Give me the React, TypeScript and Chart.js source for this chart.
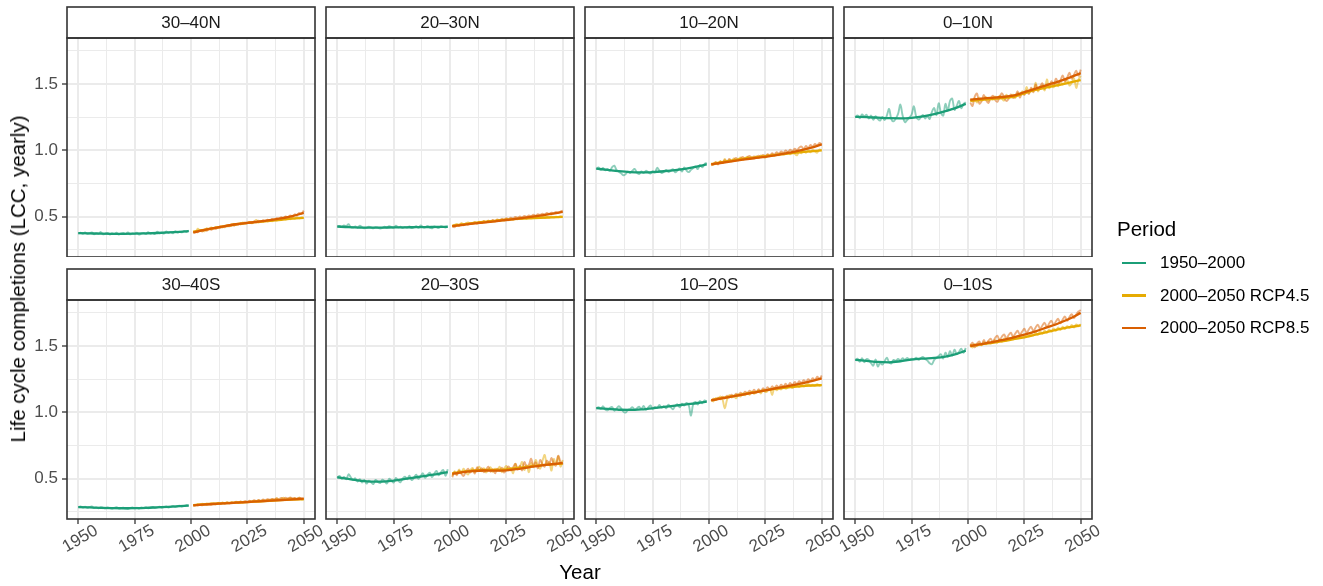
import React, { useEffect, useRef } from 'react';
import { Chart, registerables } from 'chart.js';

Chart.register(...registerables);

// ---------- categories ----------
const YEARS_HIST = Array.from({ length: 50 }, (_, i) => 1950 + i);
const YEARS_FUT = Array.from({ length: 50 }, (_, i) => 2001 + i);
const FIT_YEARS_HIST = [1950, 1955, 1960, 1965, 1970, 1975, 1980, 1985, 1990, 1995, 1999];
const FIT_YEARS_FUT = [2001, 2005, 2010, 2015, 2020, 2025, 2030, 2035, 2040, 2045, 2050];
const X_MAJOR = [1950, 1975, 2000, 2025, 2050];
const X_GRID = [1950, 1962.5, 1975, 1987.5, 2000, 2012.5, 2025, 2037.5, 2050];
const Y_GRID = [0.25, 0.5, 0.75, 1.0, 1.25, 1.5, 1.75];
const SERIES_NAMES = ['1950–2000', '2000–2050 RCP4.5', '2000–2050 RCP8.5'];

// ---------- 30–40N ----------
const hist_N40 = [
  0.372, 0.378, 0.370, 0.381, 0.369, 0.374, 0.380, 0.367, 0.375, 0.371,
  0.383, 0.366, 0.372, 0.377, 0.365, 0.374, 0.369, 0.378, 0.364, 0.373,
  0.376, 0.368, 0.381, 0.366, 0.372, 0.370, 0.379, 0.364, 0.374, 0.377,
  0.368, 0.382, 0.371, 0.375, 0.369, 0.386, 0.373, 0.378, 0.372, 0.388,
  0.376, 0.383, 0.374, 0.390, 0.379, 0.385, 0.381, 0.392, 0.384, 0.395];
const rcp45_N40 = [
  0.392, 0.384, 0.408, 0.395, 0.399, 0.389, 0.412, 0.404, 0.418, 0.407,
  0.421, 0.413, 0.426, 0.418, 0.431, 0.424, 0.437, 0.429, 0.444, 0.436,
  0.447, 0.440, 0.455, 0.446, 0.451, 0.458, 0.449, 0.462, 0.475, 0.455,
  0.466, 0.459, 0.470, 0.462, 0.473, 0.465, 0.478, 0.470, 0.481, 0.474,
  0.485, 0.478, 0.488, 0.480, 0.492, 0.484, 0.495, 0.487, 0.494, 0.490];
const rcp85_N40 = [
  0.376, 0.388, 0.381, 0.394, 0.387, 0.401, 0.393, 0.408, 0.400, 0.414,
  0.406, 0.420, 0.413, 0.427, 0.419, 0.433, 0.426, 0.440, 0.431, 0.445,
  0.438, 0.452, 0.444, 0.456, 0.449, 0.460, 0.452, 0.463, 0.457, 0.468,
  0.460, 0.472, 0.465, 0.477, 0.469, 0.482, 0.475, 0.488, 0.481, 0.495,
  0.488, 0.501, 0.494, 0.508, 0.502, 0.517, 0.510, 0.528, 0.522, 0.545];
const fitHist_N40 = [0.375, 0.373, 0.371, 0.370, 0.370, 0.371, 0.373, 0.376, 0.380, 0.385, 0.390];
const fit45_N40 = [0.385, 0.398, 0.413, 0.428, 0.442, 0.452, 0.460, 0.468, 0.476, 0.484, 0.490];
const fit85_N40 = [0.380, 0.395, 0.412, 0.428, 0.442, 0.452, 0.462, 0.473, 0.486, 0.503, 0.528];

// ---------- 20–30N ----------
const hist_N30 = [
  0.424, 0.429, 0.421, 0.433, 0.427, 0.442, 0.420, 0.418, 0.425, 0.416,
  0.431, 0.419, 0.411, 0.415, 0.423, 0.418, 0.412, 0.420, 0.416, 0.410,
  0.414, 0.424, 0.417, 0.428, 0.420, 0.415, 0.431, 0.419, 0.423, 0.414,
  0.421, 0.417, 0.425, 0.413, 0.419, 0.428, 0.415, 0.433, 0.421, 0.418,
  0.430, 0.417, 0.411, 0.426, 0.420, 0.414, 0.428, 0.422, 0.417, 0.424];
const rcp45_N30 = [
  0.428, 0.437, 0.445, 0.432, 0.451, 0.440, 0.447, 0.455, 0.443, 0.452,
  0.458, 0.447, 0.461, 0.452, 0.465, 0.456, 0.468, 0.460, 0.471, 0.463,
  0.474, 0.467, 0.477, 0.470, 0.480, 0.472, 0.484, 0.476, 0.486, 0.479,
  0.488, 0.481, 0.490, 0.484, 0.493, 0.486, 0.494, 0.488, 0.496, 0.490,
  0.498, 0.491, 0.497, 0.493, 0.500, 0.494, 0.499, 0.495, 0.502, 0.498];
const rcp85_N30 = [
  0.426, 0.420, 0.436, 0.430, 0.442, 0.434, 0.446, 0.440, 0.452, 0.444,
  0.456, 0.448, 0.460, 0.452, 0.465, 0.458, 0.469, 0.462, 0.474, 0.466,
  0.478, 0.470, 0.483, 0.476, 0.487, 0.480, 0.492, 0.485, 0.498, 0.490,
  0.500, 0.494, 0.505, 0.498, 0.509, 0.503, 0.514, 0.507, 0.518, 0.512,
  0.522, 0.516, 0.527, 0.520, 0.530, 0.525, 0.535, 0.529, 0.538, 0.545];
const fitHist_N30 = [0.425, 0.420, 0.417, 0.416, 0.417, 0.418, 0.419, 0.420, 0.421, 0.422, 0.423];
const fit45_N30 = [0.430, 0.440, 0.450, 0.460, 0.468, 0.476, 0.482, 0.487, 0.491, 0.494, 0.497];
const fit85_N30 = [0.428, 0.436, 0.446, 0.455, 0.464, 0.474, 0.484, 0.495, 0.507, 0.520, 0.535];

// ---------- 10–20N ----------
const hist_N20 = [
  0.858, 0.870, 0.852, 0.866, 0.849, 0.860, 0.845, 0.872, 0.884, 0.851,
  0.838, 0.826, 0.812, 0.820, 0.838, 0.829, 0.846, 0.859, 0.832, 0.821,
  0.840, 0.828, 0.845, 0.835, 0.824, 0.843, 0.832, 0.868, 0.846, 0.829,
  0.838, 0.851, 0.836, 0.845, 0.858, 0.834, 0.847, 0.862, 0.840, 0.871,
  0.848, 0.835, 0.852, 0.866, 0.878, 0.858, 0.889, 0.872, 0.896, 0.905];
const rcp45_N20 = [
  0.902, 0.889, 0.910, 0.897, 0.918, 0.904, 0.935, 0.912, 0.928, 0.915,
  0.938, 0.922, 0.931, 0.946, 0.927, 0.940, 0.952, 0.935, 0.948, 0.939,
  0.956, 0.942, 0.961, 0.950, 0.944, 0.966, 0.955, 0.971, 0.958, 0.975,
  0.962, 0.980, 0.966, 0.972, 0.985, 0.969, 0.990, 0.974, 0.962, 0.987,
  0.978, 0.995, 0.981, 0.999, 0.985, 1.004, 0.991, 0.982, 1.006, 0.998];
const rcp85_N20 = [
  0.885, 0.898, 0.910, 0.893, 0.915, 0.904, 0.925, 0.911, 0.934, 0.920,
  0.929, 0.942, 0.925, 0.938, 0.950, 0.933, 0.946, 0.958, 0.941, 0.953,
  0.947, 0.960, 0.952, 0.965, 0.956, 0.971, 0.962, 0.978, 0.968, 0.985,
  0.975, 0.992, 0.980, 0.998, 0.986, 1.005, 0.993, 1.012, 1.000, 1.020,
  1.028, 1.008, 1.032, 1.016, 1.040, 1.026, 1.048, 1.035, 1.056, 1.042];
const fitHist_N20 = [0.862, 0.852, 0.842, 0.835, 0.833, 0.836, 0.842, 0.850, 0.862, 0.878, 0.893];
const fit45_N20 = [0.895, 0.908, 0.922, 0.935, 0.945, 0.955, 0.965, 0.975, 0.984, 0.992, 1.000];
const fit85_N20 = [0.893, 0.904, 0.917, 0.929, 0.940, 0.950, 0.963, 0.980, 0.998, 1.018, 1.045];

// ---------- 0–10N ----------
const hist_N10 = [
  1.248, 1.262, 1.241, 1.270, 1.255, 1.268, 1.240, 1.262, 1.230, 1.258,
  1.236, 1.224, 1.252, 1.228, 1.262, 1.312, 1.235, 1.218, 1.240, 1.275,
  1.345, 1.262, 1.212, 1.228, 1.248, 1.270, 1.332, 1.255, 1.232, 1.246,
  1.266, 1.240, 1.258, 1.236, 1.290, 1.318, 1.265, 1.355, 1.283, 1.262,
  1.350, 1.298, 1.372, 1.390, 1.305, 1.335, 1.372, 1.318, 1.348, 1.362];
const rcp45_N10 = [
  1.385, 1.368, 1.392, 1.360, 1.398, 1.375, 1.388, 1.402, 1.372, 1.395,
  1.380, 1.406, 1.384, 1.412, 1.390, 1.375, 1.418, 1.396, 1.408, 1.420,
  1.395, 1.432, 1.415, 1.445, 1.425, 1.478, 1.432, 1.462, 1.448, 1.510,
  1.445, 1.470, 1.488, 1.452, 1.535, 1.468, 1.490, 1.475, 1.505, 1.482,
  1.520, 1.496, 1.512, 1.530, 1.488, 1.508, 1.545, 1.470, 1.532, 1.562];
const rcp85_N10 = [
  1.360, 1.335, 1.405, 1.428, 1.352, 1.370, 1.418, 1.378, 1.356, 1.392,
  1.412, 1.380, 1.365, 1.398, 1.430, 1.402, 1.372, 1.388, 1.422, 1.395,
  1.408, 1.445, 1.398, 1.430, 1.418, 1.452, 1.425, 1.472, 1.438, 1.495,
  1.455, 1.480, 1.505, 1.462, 1.498, 1.478, 1.520, 1.492, 1.540, 1.505,
  1.528, 1.565, 1.522, 1.548, 1.585, 1.540, 1.570, 1.600, 1.562, 1.608];
const fitHist_N10 = [1.252, 1.250, 1.246, 1.242, 1.241, 1.245, 1.255, 1.272, 1.295, 1.322, 1.350];
const fit45_N10 = [1.372, 1.378, 1.386, 1.393, 1.402, 1.430, 1.455, 1.474, 1.492, 1.510, 1.530];
const fit85_N10 = [1.382, 1.388, 1.395, 1.402, 1.412, 1.438, 1.465, 1.492, 1.518, 1.548, 1.582];

// ---------- 30–40S ----------
const hist_S40 = [
  0.284, 0.290, 0.281, 0.287, 0.279, 0.285, 0.289, 0.278, 0.283, 0.276,
  0.284, 0.280, 0.275, 0.282, 0.277, 0.272, 0.279, 0.284, 0.274, 0.278,
  0.281, 0.273, 0.270, 0.278, 0.283, 0.275, 0.280, 0.273, 0.282, 0.277,
  0.284, 0.276, 0.280, 0.286, 0.278, 0.283, 0.288, 0.280, 0.285, 0.290,
  0.282, 0.287, 0.293, 0.286, 0.291, 0.296, 0.289, 0.294, 0.300, 0.297];
const rcp45_S40 = [
  0.302, 0.296, 0.308, 0.301, 0.310, 0.304, 0.313, 0.306, 0.315, 0.309,
  0.304, 0.317, 0.310, 0.319, 0.312, 0.322, 0.314, 0.320, 0.316, 0.324,
  0.318, 0.326, 0.320, 0.328, 0.322, 0.330, 0.324, 0.333, 0.327, 0.336,
  0.329, 0.338, 0.332, 0.341, 0.335, 0.344, 0.338, 0.352, 0.340, 0.346,
  0.356, 0.342, 0.349, 0.354, 0.344, 0.351, 0.347, 0.355, 0.343, 0.349];
const rcp85_S40 = [
  0.295, 0.301, 0.297, 0.305, 0.299, 0.307, 0.302, 0.310, 0.304, 0.312,
  0.307, 0.314, 0.309, 0.317, 0.312, 0.320, 0.314, 0.322, 0.317, 0.325,
  0.320, 0.327, 0.322, 0.330, 0.325, 0.333, 0.328, 0.336, 0.331, 0.339,
  0.334, 0.342, 0.337, 0.345, 0.340, 0.347, 0.343, 0.350, 0.345, 0.353,
  0.348, 0.355, 0.350, 0.357, 0.352, 0.354, 0.349, 0.356, 0.351, 0.347];
const fitHist_S40 = [0.285, 0.282, 0.279, 0.277, 0.276, 0.277, 0.279, 0.283, 0.287, 0.292, 0.296];
const fit45_S40 = [0.300, 0.305, 0.310, 0.314, 0.318, 0.322, 0.327, 0.332, 0.337, 0.341, 0.344];
const fit85_S40 = [0.298, 0.303, 0.308, 0.313, 0.318, 0.323, 0.328, 0.333, 0.338, 0.343, 0.348];

// ---------- 20–30S ----------
const hist_S30 = [
  0.505, 0.520, 0.498, 0.512, 0.495, 0.532, 0.510, 0.488, 0.502, 0.478,
  0.495, 0.470, 0.489, 0.462, 0.484, 0.472, 0.458, 0.490, 0.475, 0.466,
  0.492, 0.480, 0.463, 0.498, 0.484, 0.470, 0.505, 0.486, 0.472, 0.500,
  0.515, 0.495, 0.522, 0.488, 0.506, 0.530, 0.498, 0.518, 0.540, 0.505,
  0.528, 0.545, 0.512, 0.536, 0.558, 0.525, 0.548, 0.565, 0.520, 0.570];
const rcp45_S30 = [
  0.520, 0.555, 0.532, 0.568, 0.540, 0.575, 0.548, 0.530, 0.562, 0.580,
  0.548, 0.572, 0.590, 0.555, 0.578, 0.545, 0.568, 0.585, 0.550, 0.575,
  0.560, 0.590, 0.548, 0.575, 0.596, 0.562, 0.580, 0.540, 0.610, 0.572,
  0.590, 0.625, 0.565, 0.600, 0.548, 0.618, 0.585, 0.640, 0.598, 0.575,
  0.632, 0.678, 0.602, 0.625, 0.560, 0.648, 0.612, 0.668, 0.590, 0.640];
const rcp85_S30 = [
  0.510, 0.548, 0.525, 0.560, 0.538, 0.520, 0.552, 0.575, 0.545, 0.568,
  0.538, 0.585, 0.556, 0.578, 0.548, 0.566, 0.590, 0.552, 0.570, 0.540,
  0.575, 0.558, 0.582, 0.545, 0.568, 0.592, 0.560, 0.585, 0.612, 0.570,
  0.598, 0.562, 0.625, 0.588, 0.605, 0.650, 0.595, 0.622, 0.578, 0.640,
  0.610, 0.590, 0.635, 0.605, 0.655, 0.615, 0.598, 0.672, 0.628, 0.605];
const fitHist_S30 = [0.510, 0.497, 0.485, 0.477, 0.477, 0.485, 0.497, 0.510, 0.523, 0.536, 0.548];
const fit45_S30 = [0.540, 0.550, 0.560, 0.566, 0.566, 0.570, 0.580, 0.590, 0.600, 0.607, 0.612];
const fit85_S30 = [0.535, 0.546, 0.556, 0.561, 0.560, 0.562, 0.572, 0.585, 0.598, 0.608, 0.618];

// ---------- 10–20S ----------
const hist_S20 = [
  1.030, 1.038, 1.026, 1.045, 1.020, 1.015, 1.032, 1.040, 1.012, 1.028,
  1.045, 1.030, 1.005, 0.998, 1.018, 1.025, 1.038, 1.022, 1.030, 1.042,
  1.025, 1.048, 1.020, 1.035, 1.052, 1.028, 1.040, 1.033, 1.055, 1.036,
  1.045, 1.030, 1.058, 1.040, 1.022, 1.048, 1.060, 1.038, 1.065, 1.050,
  1.070, 1.055, 0.975, 1.062, 1.078, 1.058, 1.085, 1.068, 1.090, 1.082];
const rcp45_S20 = [
  1.095, 1.082, 1.108, 1.100, 1.120, 1.098, 1.030, 1.095, 1.130, 1.112,
  1.125, 1.105, 1.138, 1.118, 1.142, 1.128, 1.150, 1.132, 1.158, 1.140,
  1.148, 1.165, 1.142, 1.170, 1.152, 1.160, 1.178, 1.130, 1.185, 1.165,
  1.180, 1.172, 1.195, 1.178, 1.188, 1.200, 1.182, 1.196, 1.205, 1.190,
  1.210, 1.195, 1.205, 1.215, 1.198, 1.208, 1.202, 1.212, 1.200, 1.208];
const rcp85_S20 = [
  1.085, 1.102, 1.092, 1.110, 1.098, 1.118, 1.104, 1.126, 1.112, 1.132,
  1.118, 1.140, 1.125, 1.148, 1.132, 1.155, 1.140, 1.162, 1.146, 1.170,
  1.150, 1.175, 1.158, 1.182, 1.165, 1.190, 1.170, 1.196, 1.178, 1.202,
  1.185, 1.208, 1.192, 1.215, 1.198, 1.222, 1.205, 1.228, 1.212, 1.235,
  1.220, 1.242, 1.228, 1.250, 1.235, 1.258, 1.242, 1.268, 1.252, 1.278];
const fitHist_S20 = [1.032, 1.025, 1.019, 1.018, 1.022, 1.030, 1.040, 1.050, 1.060, 1.070, 1.080];
const fit45_S20 = [1.092, 1.105, 1.120, 1.135, 1.150, 1.165, 1.178, 1.188, 1.196, 1.202, 1.205];
const fit85_S20 = [1.090, 1.103, 1.118, 1.133, 1.149, 1.165, 1.182, 1.198, 1.215, 1.234, 1.256];

// ---------- 0–10S ----------
const hist_S10 = [
  1.392, 1.405, 1.380, 1.408, 1.378, 1.402, 1.395, 1.370, 1.352, 1.398,
  1.345, 1.372, 1.360, 1.385, 1.412, 1.378, 1.368, 1.395, 1.388, 1.402,
  1.392, 1.408, 1.395, 1.410, 1.398, 1.405, 1.400, 1.412, 1.395, 1.408,
  1.418, 1.402, 1.390, 1.370, 1.362, 1.395, 1.410, 1.425, 1.438, 1.405,
  1.450, 1.418, 1.462, 1.428, 1.472, 1.440, 1.455, 1.480, 1.448, 1.485];
const rcp45_S10 = [
  1.510, 1.488, 1.515, 1.498, 1.520, 1.505, 1.528, 1.512, 1.535, 1.518,
  1.530, 1.545, 1.525, 1.550, 1.532, 1.558, 1.540, 1.562, 1.548, 1.570,
  1.555, 1.575, 1.560, 1.582, 1.565, 1.588, 1.572, 1.595, 1.578, 1.602,
  1.585, 1.610, 1.592, 1.618, 1.600, 1.625, 1.608, 1.632, 1.615, 1.640,
  1.620, 1.645, 1.628, 1.650, 1.635, 1.658, 1.640, 1.662, 1.648, 1.665];
const rcp85_S10 = [
  1.505, 1.525, 1.490, 1.518, 1.535, 1.508, 1.545, 1.520, 1.538, 1.555,
  1.532, 1.560, 1.578, 1.545, 1.570, 1.588, 1.558, 1.582, 1.600, 1.570,
  1.595, 1.615, 1.585, 1.608, 1.630, 1.598, 1.625, 1.645, 1.612, 1.640,
  1.660, 1.628, 1.655, 1.675, 1.642, 1.670, 1.690, 1.658, 1.685, 1.705,
  1.672, 1.700, 1.722, 1.690, 1.718, 1.740, 1.710, 1.738, 1.760, 1.772];
const fitHist_S10 = [1.395, 1.388, 1.380, 1.377, 1.385, 1.398, 1.405, 1.410, 1.420, 1.440, 1.465];
const fit45_S10 = [1.500, 1.510, 1.522, 1.535, 1.550, 1.565, 1.585, 1.605, 1.625, 1.642, 1.655];
const fit85_S10 = [1.500, 1.512, 1.527, 1.545, 1.563, 1.585, 1.610, 1.640, 1.670, 1.705, 1.750];

const PANELS = [
  { label: '30–40N', hist: hist_N40, r45: rcp45_N40, r85: rcp85_N40, fh: fitHist_N40, f45: fit45_N40, f85: fit85_N40 },
  { label: '20–30N', hist: hist_N30, r45: rcp45_N30, r85: rcp85_N30, fh: fitHist_N30, f45: fit45_N30, f85: fit85_N30 },
  { label: '10–20N', hist: hist_N20, r45: rcp45_N20, r85: rcp85_N20, fh: fitHist_N20, f45: fit45_N20, f85: fit85_N20 },
  { label: '0–10N', hist: hist_N10, r45: rcp45_N10, r85: rcp85_N10, fh: fitHist_N10, f45: fit45_N10, f85: fit85_N10 },
  { label: '30–40S', hist: hist_S40, r45: rcp45_S40, r85: rcp85_S40, fh: fitHist_S40, f45: fit45_S40, f85: fit85_S40 },
  { label: '20–30S', hist: hist_S30, r45: rcp45_S30, r85: rcp85_S30, fh: fitHist_S30, f45: fit45_S30, f85: fit85_S30 },
  { label: '10–20S', hist: hist_S20, r45: rcp45_S20, r85: rcp85_S20, fh: fitHist_S20, f45: fit45_S20, f85: fit85_S20 },
  { label: '0–10S', hist: hist_S10, r45: rcp45_S10, r85: rcp85_S10, fh: fitHist_S10, f45: fit45_S10, f85: fit85_S10 },
];

// ---------- styling / layout ----------
const FONT = '"Liberation Sans", Arial, Helvetica, sans-serif';
const COLORS = ['#1B9E77', '#E6AB02', '#D95F02'];
const COLORS_RAW = ['rgba(27,158,119,0.5)', 'rgba(230,171,2,0.5)', 'rgba(217,95,2,0.5)'];
const COL_LEFT = [67, 326, 585, 844];
const ROW_TOP = [6, 268];
const PANEL_W = 248;
const STRIP_H = 32;
const PLOT_H = 219;
const Y_AXIS_W = 60;
const X_AXIS_H = 50;
const RIGHT_PAD = 30;
const GRID_COLOR = '#EBEBEB';
const DARK = '#333333';
const SMALL = 17;
const TITLE = 20.5;

const isYMajor = (v: number) => Math.abs(v * 2 - Math.round(v * 2)) < 1e-6;
const isXMajor = (v: number) => Math.abs((v - 1950) % 25) < 1e-6;

const facetPlugin = {
  id: 'facet',
  afterDraw(chart: any, _args: any, opts: any) {
    const { ctx, chartArea: a } = chart;
    ctx.save();
    const st = 1;
    ctx.fillStyle = '#FFFFFF';
    ctx.fillRect(a.left, st, a.right - a.left, a.top - st);
    ctx.strokeStyle = DARK;
    ctx.lineWidth = 1.6;
    ctx.strokeRect(a.left, st, a.right - a.left, a.top - st);
    ctx.fillStyle = '#1A1A1A';
    ctx.font = `${SMALL}px ${FONT}`;
    ctx.textAlign = 'center';
    ctx.textBaseline = 'middle';
    ctx.fillText(opts.label, (a.left + a.right) / 2, (st + a.top) / 2 + 1);
    ctx.strokeRect(a.left, a.top, a.right - a.left, a.bottom - a.top);
    if (opts.bottom) {
      const xs = chart.scales.x;
      ctx.fillStyle = '#4D4D4D';
      for (const yr of X_MAJOR) {
        const px = xs.getPixelForValue(yr);
        ctx.save();
        ctx.translate(px + 2, a.bottom + 20);
        ctx.rotate(-Math.PI / 6);
        ctx.fillText(String(yr), 0, 0);
        ctx.restore();
      }
    }
    ctx.restore();
  },
};

function makeConfig(p: any, col: number, row: number): any {
  const bottom = row === 1;
  const left = col === 0;
  const pts = (xs: number[], ys: number[]) => xs.map((x, i) => ({ x, y: ys[i] }));
  const raw = (data: any, k: number, order: number) => ({
    data, borderColor: COLORS_RAW[k], borderWidth: 1.9, pointRadius: 0, tension: 0.35, order, fill: false,
  });
  const fit = (data: any, k: number, order: number) => ({
    data, borderColor: COLORS[k], borderWidth: 2.3, pointRadius: 0, cubicInterpolationMode: 'monotone', order, fill: false,
  });
  return {
    type: 'line',
    data: {
      datasets: [
        { label: SERIES_NAMES[0], ...raw(pts(YEARS_HIST, p.hist), 0, 5) },
        { label: SERIES_NAMES[1], ...raw(pts(YEARS_FUT, p.r45), 1, 4) },
        { label: SERIES_NAMES[2], ...raw(pts(YEARS_FUT, p.r85), 2, 3) },
        { label: SERIES_NAMES[0], ...fit(pts(FIT_YEARS_HIST, p.fh), 0, 2) },
        { label: SERIES_NAMES[1], ...fit(pts(FIT_YEARS_FUT, p.f45), 1, 1) },
        { label: SERIES_NAMES[2], ...fit(pts(FIT_YEARS_FUT, p.f85), 2, 0) },
      ],
    },
    options: {
      animation: false,
      responsive: false,
      devicePixelRatio: 1,
      events: [],
      layout: { autoPadding: false, padding: { top: STRIP_H, right: RIGHT_PAD, left: 0, bottom: 0 } },
      plugins: {
        legend: { display: false },
        tooltip: { enabled: false },
        facet: { label: p.label, bottom },
      },
      scales: {
        x: {
          type: 'linear',
          min: 1945,
          max: 2055,
          afterBuildTicks: (s: any) => { s.ticks = X_GRID.map((value) => ({ value })); },
          afterFit: (s: any) => { s.height = bottom ? X_AXIS_H : 0; s.paddingLeft = 0; s.paddingRight = 0; },
          ticks: { display: false },
          border: { display: false },
          grid: {
            color: GRID_COLOR,
            lineWidth: (c: any) => (isXMajor(c.tick.value) ? 2 : 1),
            drawTicks: true,
            tickLength: 5,
            tickWidth: 1.3,
            tickColor: (c: any) => (bottom && isXMajor(c.tick.value) ? DARK : 'rgba(0,0,0,0)'),
          },
        },
        y: {
          type: 'linear',
          min: 0.195,
          max: 1.847,
          afterBuildTicks: (s: any) => { s.ticks = Y_GRID.map((value) => ({ value })); },
          afterFit: (s: any) => { s.width = Y_AXIS_W; s.paddingTop = 0; s.paddingBottom = 0; },
          ticks: {
            display: left,
            padding: 4,
            color: '#4D4D4D',
            font: { family: FONT, size: SMALL },
            callback: (v: number) => (isYMajor(v) ? v.toFixed(1) : ''),
          },
          border: { display: false },
          grid: {
            color: GRID_COLOR,
            lineWidth: (c: any) => (isYMajor(c.tick.value) ? 2 : 1),
            drawTicks: true,
            tickLength: 5,
            tickWidth: 1.3,
            tickColor: (c: any) => (left && isYMajor(c.tick.value) ? DARK : 'rgba(0,0,0,0)'),
          },
        },
      },
    },
    plugins: [facetPlugin],
  };
}

function Panel({ idx }: { idx: number }) {
  const ref = useRef<HTMLCanvasElement | null>(null);
  const col = idx % 4;
  const row = Math.floor(idx / 4);
  const w = Y_AXIS_W + PANEL_W + RIGHT_PAD;
  const h = STRIP_H + PLOT_H + (row === 1 ? X_AXIS_H : 0);
  useEffect(() => {
    if (!ref.current) return;
    const chart = new Chart(ref.current, makeConfig(PANELS[idx], col, row));
    return () => chart.destroy();
  }, [idx]);
  return (
    <canvas
      ref={ref}
      width={w}
      height={h}
      style={{ position: 'absolute', left: COL_LEFT[col] - Y_AXIS_W, top: ROW_TOP[row], width: w, height: h }}
    />
  );
}

export default function App() {
  return (
    <div style={{ position: 'absolute', left: 0, top: 0, width: 1323, height: 586, background: '#FFFFFF', fontFamily: FONT, overflow: 'hidden' }}>
      {PANELS.map((_, i) => <Panel key={i} idx={i} />)}
      <div style={{ position: 'absolute', left: 18, top: 279, transform: 'translate(-50%, -50%) rotate(-90deg)', whiteSpace: 'nowrap', fontSize: TITLE, color: '#000' }}>
        Life cycle completions (LCC, yearly)
      </div>
      <div style={{ position: 'absolute', left: 580, top: 572, transform: 'translate(-50%, -50%)', whiteSpace: 'nowrap', fontSize: TITLE, color: '#000' }}>
        Year
      </div>
      <div style={{ position: 'absolute', left: 1117, top: 229, transform: 'translateY(-50%)', fontSize: TITLE, color: '#000' }}>
        Period
      </div>
      {SERIES_NAMES.map((name, i) => (
        <div key={name} style={{ position: 'absolute', left: 1122, top: 263 + i * 32.5, height: 0 }}>
          <div style={{ position: 'absolute', left: 0, top: -1.25, width: 24, height: 2.5, background: COLORS[i] }} />
          <div style={{ position: 'absolute', left: 38, top: 0, transform: 'translateY(-50%)', whiteSpace: 'nowrap', fontSize: SMALL, color: '#000' }}>
            {name}
          </div>
        </div>
      ))}
    </div>
  );
}
